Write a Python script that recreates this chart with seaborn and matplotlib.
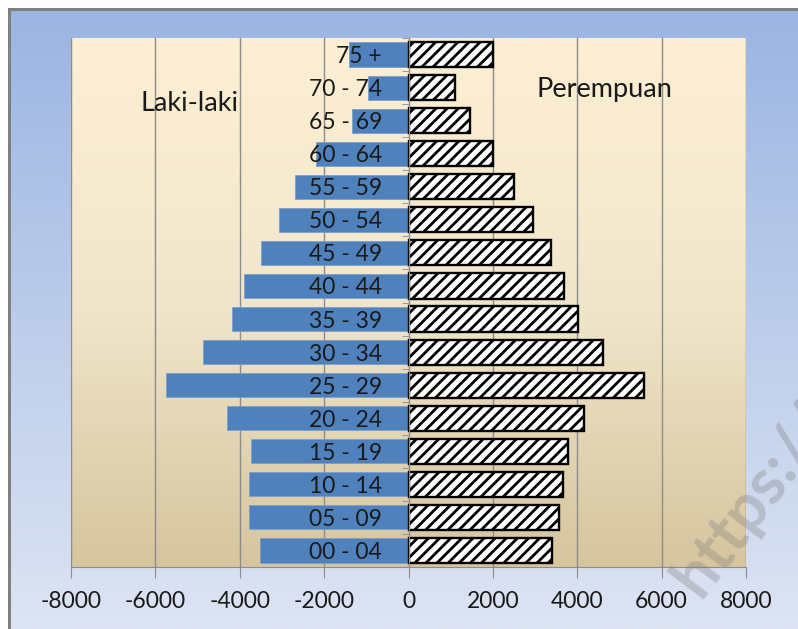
import numpy as np
import pandas as pd
import matplotlib.pyplot as plt
import seaborn as sns
from matplotlib.colors import LinearSegmentedColormap
from matplotlib.patches import Rectangle
from matplotlib.ticker import FixedLocator

plt.rcParams['font.family'] = ['Lato', 'DejaVu Sans']
plt.rcParams['axes.unicode_minus'] = False
plt.rcParams['hatch.linewidth'] = 2.0

age_groups = ['75 +', '70 - 74', '65 - 69', '60 - 64', '55 - 59', '50 - 54', '45 - 49', '40 - 44',
              '35 - 39', '30 - 34', '25 - 29', '20 - 24', '15 - 19', '10 - 14', '05 - 09', '00 - 04']
male = [1400, 970, 1350, 2200, 2700, 3070, 3490, 3890, 4190, 4860, 5740, 4310, 3740, 3790, 3790, 3520]
female = [2000, 1100, 1460, 2000, 2490, 2960, 3380, 3690, 4020, 4620, 5590, 4170, 3775, 3660, 3560, 3400]
x_ticks = [-8000, -6000, -4000, -2000, 0, 2000, 4000, 6000, 8000]

df = pd.DataFrame({'age': age_groups,
                   'Laki-laki': [-v for v in male],
                   'Perempuan': female})

W, H = 798, 629
fig = plt.figure(figsize=(W / 100, H / 100), dpi=100)


def px(x0, y0, x1, y1):
    # pixel box (top-left origin) -> figure rect
    return [x0 / W, 1 - y1 / H, (x1 - x0) / W, (y1 - y0) / H]


# grey frame + blue gradient chart area
fig.add_artist(Rectangle((8 / W, 0), (W - 8) / W, (H - 8) / H, transform=fig.transFigure,
                         facecolor='#808080', edgecolor='none', zorder=-5))
grad = np.linspace(0, 1, 256).reshape(-1, 1)
bg = fig.add_axes(px(11, 11, W, H), zorder=-2)
bg.imshow(grad, aspect='auto', extent=[0, 1, 0, 1],
          cmap=LinearSegmentedColormap.from_list('blue', ['#9BB5E2', '#DDE4F3']))
bg.set_axis_off()

# beige gradient plot area
pa = fig.add_axes(px(71, 38, 746, 567), zorder=-1)
pa.imshow(grad, aspect='auto', extent=[0, 1, 0, 1],
          cmap=LinearSegmentedColormap.from_list('beige', ['#FDEFD3', '#F1E6CC', '#D6C59E']))
pa.set_axis_off()

ax = fig.add_axes(px(71, 38, 746, 567), zorder=0)
ax.set_facecolor('none')

sns.barplot(data=df, x='Laki-laki', y='age', orient='h', color='#4F81BD', saturation=1,
            width=0.73, edgecolor='#7A9FCF', linewidth=0.6, ax=ax)
sns.barplot(data=df, x='Perempuan', y='age', orient='h', color='white', saturation=1,
            width=0.76, edgecolor='black', linewidth=1.7, hatch='///', ax=ax)

ax.set_xlim(-8000, 8000)
ax.set_ylim(15.5, -0.5)
ax.set_xlabel('')
ax.set_ylabel('')
ax.set_xticks(x_ticks)
ax.set_xticklabels([str(t) for t in x_ticks])

ax.grid(axis='x', color='#8C8C8C', linewidth=1)
ax.grid(axis='y', visible=False)
ax.set_axisbelow(True)
ax.yaxis.set_zorder(3)

for s in ['top', 'right']:
    ax.spines[s].set_visible(False)
ax.spines['left'].set_position(('data', 0))
ax.spines['left'].set_color('#8C8C8C')
ax.spines['bottom'].set_color('#8C8C8C')

ax.tick_params(axis='x', length=8, color='#8C8C8C', labelsize=16.5, labelcolor='#1a1a1a', pad=9)
ax.tick_params(axis='y', which='major', length=0, pad=19, labelsize=16.5, labelcolor='#1a1a1a')
ax.yaxis.set_minor_locator(FixedLocator(np.arange(-0.5, 16, 1)))
ax.tick_params(axis='y', which='minor', length=5, color='#8C8C8C', direction='out')

ax.text(0.176, 0.877, 'Laki-laki', transform=ax.transAxes, ha='center', va='center',
        fontsize=19.5, color='#1a1a1a')
ax.text(0.791, 0.902, 'Perempuan', transform=ax.transAxes, ha='center', va='center',
        fontsize=19.5, color='#1a1a1a')

# faint watermark in the corner, partly off the edge
fig.text(700 / W, 1 - 600 / H, 'https://', rotation=53, rotation_mode='anchor',
         ha='left', va='baseline', fontsize=46, fontweight='bold', color='#7f7f7f', alpha=0.33)

fig.savefig('out.png', dpi=100)
plt.close()
